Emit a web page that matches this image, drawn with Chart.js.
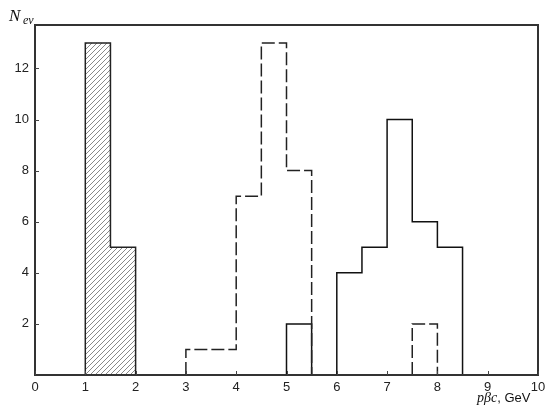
<!DOCTYPE html>
<html>
<head>
<meta charset="utf-8">
<script src="https://cdn.jsdelivr.net/npm/chart.js@4"></script>
<style>
    html, body { margin: 0; padding: 0; background: #fff; }
    #wrap { width: 553px; height: 419px; }
</style>
</head>
<body>
<div id="wrap"><canvas id="chart-hist"></canvas></div>
<script>
// Bins: lower edge, upper edge, number of events
var hatchLo = [1, 1.5];
var hatchHi = [1.5, 2];
var hatchN = [13, 5];

var dashLo = [3, 4, 4.5, 5, 7.5];
var dashHi = [4, 4.5, 5, 5.5, 8];
var dashN = [1, 7, 13, 8, 2];

var solidLo = [5, 6, 6.5, 7, 7.5, 8];
var solidHi = [5.5, 6.5, 7, 7.5, 8, 8.5];
var solidN = [2, 4, 5, 10, 6, 5];

var xTicks = [0, 1, 2, 3, 4, 5, 6, 7, 8, 9, 10];
var yTicks = [2, 4, 6, 8, 10, 12];

(function() {
    'use strict';

    // turn bins into a step outline, with a null point between separate groups
    function outline(lo, hi, n) {
        var pts = [];
        for (var i = 0; i < lo.length; i++) {
            if (i === 0 || lo[i] !== hi[i - 1]) {
                if (i > 0) pts.push({ x: lo[i], y: null });
                pts.push({ x: lo[i], y: 0 });
            }
            pts.push({ x: lo[i], y: n[i] });
            pts.push({ x: hi[i], y: n[i] });
            if (i === lo.length - 1 || lo[i + 1] !== hi[i]) {
                pts.push({ x: hi[i], y: 0 });
            }
        }
        return pts;
    }

    // diagonal hatch used for the first histogram
    function hatchPattern() {
        var c = document.createElement('canvas');
        c.width = 5;
        c.height = 5;
        var g = c.getContext('2d');
        g.strokeStyle = '#888';
        g.lineWidth = 1;
        g.beginPath();
        g.moveTo(-1, 6);
        g.lineTo(6, -1);
        g.stroke();
        return g.createPattern(c, 'repeat');
    }

    var ctx = document.getElementById('chart-hist').getContext('2d');

    // frame, inward ticks and the two axis titles
    var decor = {
        id: 'decor',
        afterDraw: function(chart) {
            var a = chart.chartArea;
            var g = chart.ctx;
            var xs = chart.scales.x, ys = chart.scales.y;
            g.save();
            g.strokeStyle = '#333';
            g.lineWidth = 2;
            g.strokeRect(a.left, a.top, a.right - a.left, a.bottom - a.top);

            g.lineWidth = 1;
            g.strokeStyle = '#444';
            g.beginPath();
            xTicks.forEach(function(v) {
                var px = Math.round(xs.getPixelForValue(v)) + 0.5;
                g.moveTo(px, a.bottom);
                g.lineTo(px, a.bottom - 4);
            });
            yTicks.forEach(function(v) {
                var py = Math.round(ys.getPixelForValue(v)) + 0.5;
                g.moveTo(a.left, py);
                g.lineTo(a.left + 4, py);
            });
            g.stroke();

            g.fillStyle = '#111';
            g.textBaseline = 'alphabetic';
            g.textAlign = 'left';
            g.font = 'italic 17px "Liberation Serif"';
            g.fillText('N', 9, 21);
            g.font = 'italic 12px "Liberation Serif"';
            g.fillText('ev', 23, 24);

            g.font = 'italic 14px "Liberation Serif"';
            g.fillText('p\u03B2c', 477, 402);
            var w = g.measureText('p\u03B2c').width;
            g.font = '13px "Liberation Sans"';
            g.fillText(', GeV', 477 + w, 402);
            g.restore();
        }
    };

    new Chart(ctx, {
        type: 'scatter',
        data: {
            datasets: [{
                label: 'hatched',
                data: outline(hatchLo, hatchHi, hatchN),
                showLine: true,
                borderColor: '#222',
                borderWidth: 1.5,
                backgroundColor: hatchPattern(),
                fill: 'origin',
                pointRadius: 0,
                spanGaps: false
            }, {
                label: 'dashed',
                data: outline(dashLo, dashHi, dashN),
                showLine: true,
                borderColor: '#222',
                borderWidth: 1.5,
                borderDash: [13, 4],
                fill: false,
                pointRadius: 0,
                spanGaps: false
            }, {
                label: 'solid',
                data: outline(solidLo, solidHi, solidN),
                showLine: true,
                borderColor: '#111',
                borderWidth: 1.5,
                fill: false,
                pointRadius: 0,
                spanGaps: false
            }]
        },
        options: {
            responsive: true,
            maintainAspectRatio: false,
            animation: false,
            layout: { padding: { top: 25, right: 15, left: 0, bottom: 0 } },
            plugins: {
                legend: { display: false },
                tooltip: { enabled: false }
            },
            scales: {
                x: {
                    type: 'linear',
                    min: 0,
                    max: 10,
                    afterBuildTicks: function(s) {
                        s.ticks = xTicks.map(function(v) { return { value: v }; });
                    },
                    afterFit: function(s) { s.height = 44; },
                    grid: { display: false, drawTicks: false },
                    border: { display: false },
                    ticks: {
                        padding: 5,
                        maxRotation: 0,
                        autoSkip: false,
                        color: '#222',
                        font: { family: 'Liberation Sans', size: 13 }
                    }
                },
                y: {
                    type: 'linear',
                    min: 0,
                    max: 13.7,
                    afterBuildTicks: function(s) {
                        s.ticks = yTicks.map(function(v) { return { value: v }; });
                    },
                    afterFit: function(s) { s.width = 35; },
                    grid: { display: false, drawTicks: false },
                    border: { display: false },
                    ticks: {
                        padding: 6,
                        autoSkip: false,
                        color: '#222',
                        font: { family: 'Liberation Sans', size: 13 }
                    }
                }
            }
        },
        plugins: [decor]
    });
})();
</script>
</body>
</html>
